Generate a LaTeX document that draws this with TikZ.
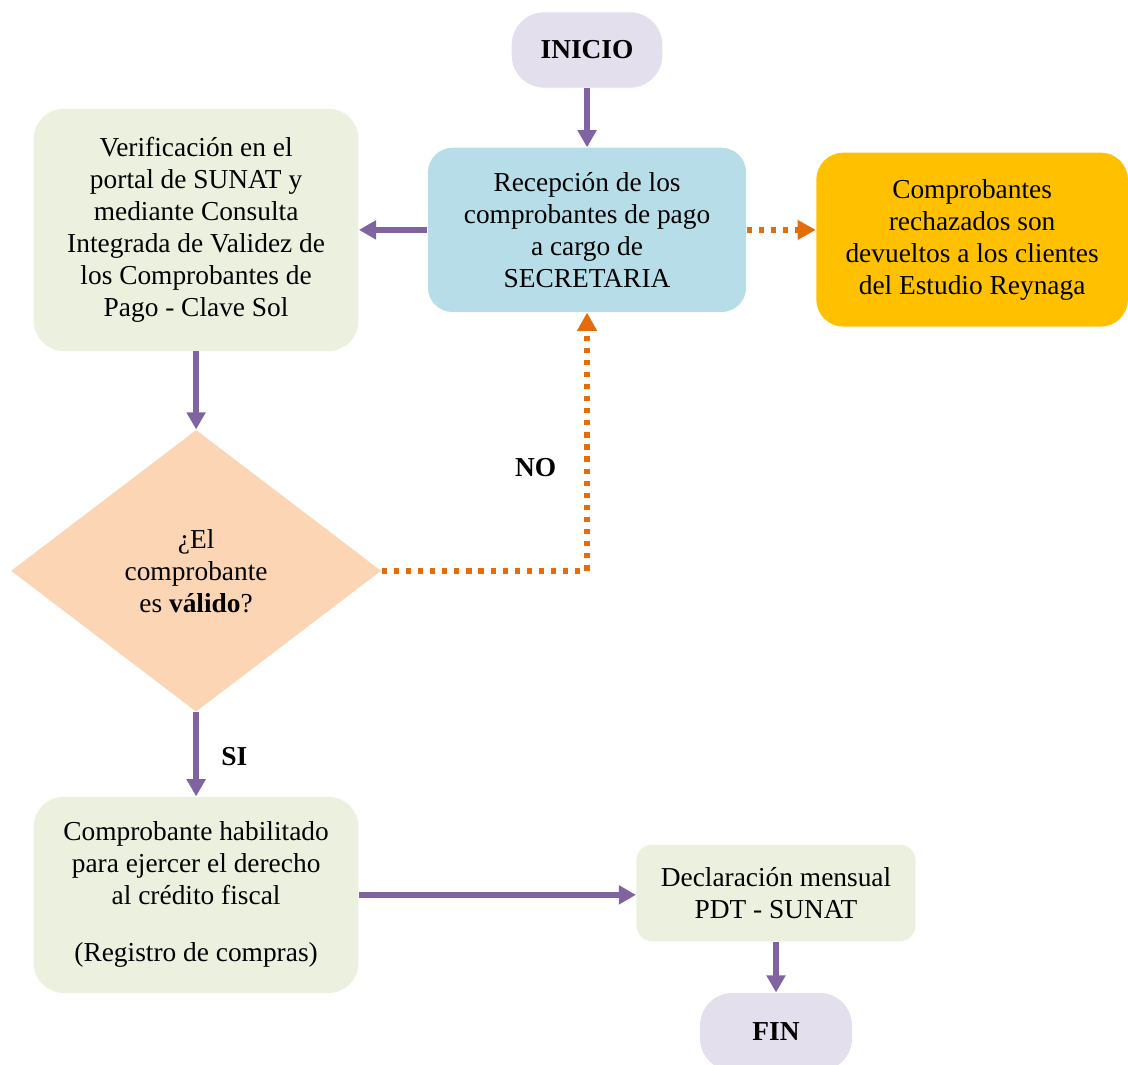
\documentclass[tikz,border=0pt]{standalone}
\usepackage{fontspec}
\setmainfont{Liberation Serif}
\usetikzlibrary{positioning, arrows.meta, shapes.geometric}
\definecolor{lavender}{HTML}{E4DFEC}
\definecolor{paleblue}{HTML}{B7DEE8}
\definecolor{palegreen}{HTML}{EBF1DE}
\definecolor{gold}{HTML}{FFC000}
\definecolor{peach}{HTML}{FCD5B5}
\definecolor{flowpurple}{HTML}{8064A2}
\definecolor{floworange}{HTML}{E46C0A}

\begin{document}
\begin{tikzpicture}
    [
        on grid, font=\fontsize{12}{14}\selectfont,
        end_node/.style={rounded corners=0.5cm, fill=lavender, minimum width=2.32cm, minimum height=1.16cm, font=\fontsize{12}{14}\selectfont\bfseries},
        blue_node/.style={rounded corners=0.38cm, fill=paleblue, align=center, minimum width=4.9cm, minimum height=2.53cm},
        green_node/.style={rounded corners=0.46cm, fill=palegreen, align=center, minimum width=5cm},
        gold_node/.style={rounded corners=0.42cm, fill=gold, align=center, minimum width=4.8cm, minimum height=2.68cm},
        peach_node/.style={diamond, fill=peach, align=center, minimum width=5.7cm, minimum height=4.34cm, inner sep=0pt},
        branch_label/.style={text=black, font=\fontsize{12}{14}\selectfont\bfseries},
        flow_arrow/.style={-{Triangle[length=7.5pt, width=8pt]}, line width=2.7pt, color=flowpurple},
        back_arrow/.style={-{Triangle[length=8pt, width=8.2pt]}, line width=2.5pt, color=floworange, dash pattern=on 2.3pt off 3pt},
    ]
        \useasboundingbox (-9.04,0.77) rectangle (8.33,-15.62);
        \node[end_node] (inicio) {INICIO} ;
        \node[blue_node] (recep) [below = 2.77cm of inicio] {Recepción de los\\comprobantes de pago\\a cargo de\\SECRETARIA} ;
        \node[green_node, minimum height=3.73cm] (verif) [left = 6.02cm of recep] {Verificación en el\\portal de SUNAT y\\mediante Consulta\\Integrada de Validez de\\los Comprobantes de\\Pago - Clave Sol} ;
        \node[gold_node] (rech) [below right = 0.15cm and 5.93cm of recep] {Comprobantes\\rechazados son\\devueltos a los clientes\\del Estudio Reynaga} ;
        \node[peach_node] (valido) [below = 5.25cm of verif] {¿El\\comprobante\\es \textbf{válido}?} ;
        \node[green_node, minimum height=3.02cm] (habil) [below = 4.99cm of valido] {Comprobante habilitado\\para ejercer el derecho\\al crédito fiscal\\[11pt](Registro de compras)} ;
        \node[green_node, rounded corners=0.25cm, minimum width=4.3cm, minimum height=1.49cm] (decl) [above right = 0.03cm and 8.93cm of habil] {Declaración mensual\\PDT - SUNAT} ;
        \node[end_node, minimum width=2.34cm, minimum height=1.2cm] (fin) [below = 2.14cm of decl] {FIN} ;
        \draw[flow_arrow] (inicio) -- (recep) ;
        \draw[flow_arrow] (recep) -- (verif) ;
        \draw[back_arrow] (recep.east) -- (recep.east -| rech.west) ;
        \draw[flow_arrow] (verif) -- (valido) ;
        \draw[back_arrow] (valido.east) -| node[branch_label, pos=0.7, xshift=-0.79cm] (no) {NO} (recep.south) ;
        \draw[flow_arrow] (valido) -- node[branch_label, pos=0.53, xshift=0.59cm] (si) {SI} (habil) ;
        \draw[flow_arrow] (habil.east |- habil.center) -- (habil.east -| decl.west) ;
        \draw[flow_arrow] (decl) -- (fin) ;
    \end{tikzpicture}
\end{document}
